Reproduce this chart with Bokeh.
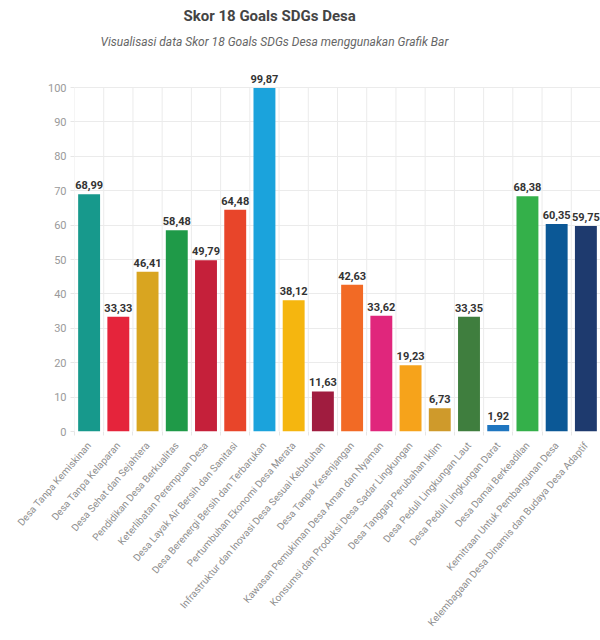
from bokeh.plotting import figure
from bokeh.models import ColumnDataSource, FixedTicker, Title, Range1d
from bokeh.embed import file_html
from bokeh.resources import INLINE
from bokeh.core.properties import value

categories = [
    "Desa Tanpa Kemiskinan",
    "Desa Tanpa Kelaparan",
    "Desa Sehat dan Sejahtera",
    "Pendidikan Desa Berkualitas",
    "Keterlibatan Perempuan Desa",
    "Desa Layak Air Bersih dan Sanitasi",
    "Desa Berenergi Bersih dan Terbarukan",
    "Pertumbuhan Ekonomi Desa Merata",
    "Infrastruktur dan Inovasi Desa Sesuai Kebutuhan",
    "Desa Tanpa Kesenjangan",
    "Kawasan Pemukiman Desa Aman dan Nyaman",
    "Konsumsi dan Produksi Desa Sadar Lingkungan",
    "Desa Tanggap Perubahan Iklim",
    "Desa Peduli Lingkungan Laut",
    "Desa Peduli Lingkungan Darat",
    "Desa Damai Berkeadilan",
    "Kemitraan Untuk Pembangunan Desa",
    "Kelembagaan Desa Dinamis dan Budaya Desa Adaptif",
]
scores = [68.99, 33.33, 46.41, 58.48, 49.79, 64.48, 99.87, 38.12, 11.63,
          42.63, 33.62, 19.23, 6.73, 33.35, 1.92, 68.38, 60.35, 59.75]
colors = ["#17998c", "#e5243b", "#d9a520", "#1f9a48", "#c5203a", "#e8452a",
          "#1ba3dc", "#f5b60f", "#a01c3f", "#f26a25", "#e0267c", "#f6a31b",
          "#cf9a2b", "#3f7e3e", "#1f76c0", "#34b04a", "#0b5896", "#1e3a6e"]
y_ticks = [0, 10, 20, 30, 40, 50, 60, 70, 80, 90, 100]

n = len(categories)
xs = [i + 0.5 for i in range(n)]
bounds = list(range(n + 1))
labels = [f"{v:.2f}".replace(".", ",") for v in scores]

src = ColumnDataSource(dict(x=xs, top=scores, color=colors, label=labels))

# extra headroom above 100 so the value label of the tallest bar stays visible
y_top = y_ticks[-1] + 30 / 3.44

p = figure(width=600, height=640, output_backend="svg", toolbar_location=None,
           x_range=Range1d(0, n), y_range=Range1d(0, y_top),
           min_border_left=74, min_border_right=0, min_border_bottom=209,
           min_border_top=57, title=None)
p.outline_line_color = None
p.background_fill_color = "white"

# vertical grid lines only up to the top tick
p.xgrid.grid_line_color = None
p.segment(x0=bounds, y0=[y_ticks[0]] * len(bounds), x1=bounds,
          y1=[y_ticks[-1]] * len(bounds), line_color="#ebebeb", line_width=1)
p.ygrid.ticker = FixedTicker(ticks=y_ticks)
p.ygrid.grid_line_color = "#ebebeb"

p.vbar(x="x", top="top", width=0.75, bottom=0, color="color", line_color=None, source=src)
p.text(x="x", y="top", text="label", source=src, text_align="center",
       text_baseline="bottom", y_offset=-5, text_font=value("Roboto"),
       text_font_size="11px", text_font_style="bold", text_color="#333333")

# x axis
p.xaxis.ticker = FixedTicker(ticks=xs, minor_ticks=bounds)
p.xaxis.major_label_overrides = {x: c for x, c in zip(xs, categories)}
p.xaxis.major_label_orientation = 0.86
p.xaxis.major_label_text_font = "Roboto"
p.xaxis.major_label_text_font_size = "10px"
p.xaxis.major_label_text_color = "#8e8e8e"
p.xaxis.major_tick_line_color = None
p.xaxis.minor_tick_line_color = "#e6e6e6"
p.xaxis.minor_tick_out = 4
p.xaxis.minor_tick_in = 0
p.xaxis.axis_line_color = None
p.xaxis.major_label_standoff = 6

# y axis
p.yaxis.ticker = FixedTicker(ticks=y_ticks)
p.yaxis.axis_line_color = None
p.yaxis.major_tick_line_color = "#e6e6e6"
p.yaxis.major_tick_out = 4
p.yaxis.major_tick_in = 0
p.yaxis.minor_tick_line_color = None
p.yaxis.major_label_text_font = "Roboto"
p.yaxis.major_label_text_font_size = "11px"
p.yaxis.major_label_text_color = "#9a9a9a"
p.yaxis.major_label_standoff = 4

sub = Title(text="Visualisasi data Skor 18 Goals SDGs Desa menggunakan Grafik Bar",
            text_font="Roboto", text_font_size="12px", text_font_style="italic",
            text_color="#666666", align="left", offset=26, standoff=17)
p.add_layout(sub, "above")
ttl = Title(text="Skor 18 Goals SDGs Desa", text_font="Roboto", text_font_size="15px",
            text_font_style="bold", text_color="#444444", align="left", offset=109, standoff=0)
p.add_layout(ttl, "above")

open("out.html", "w").write(file_html(p, INLINE))
